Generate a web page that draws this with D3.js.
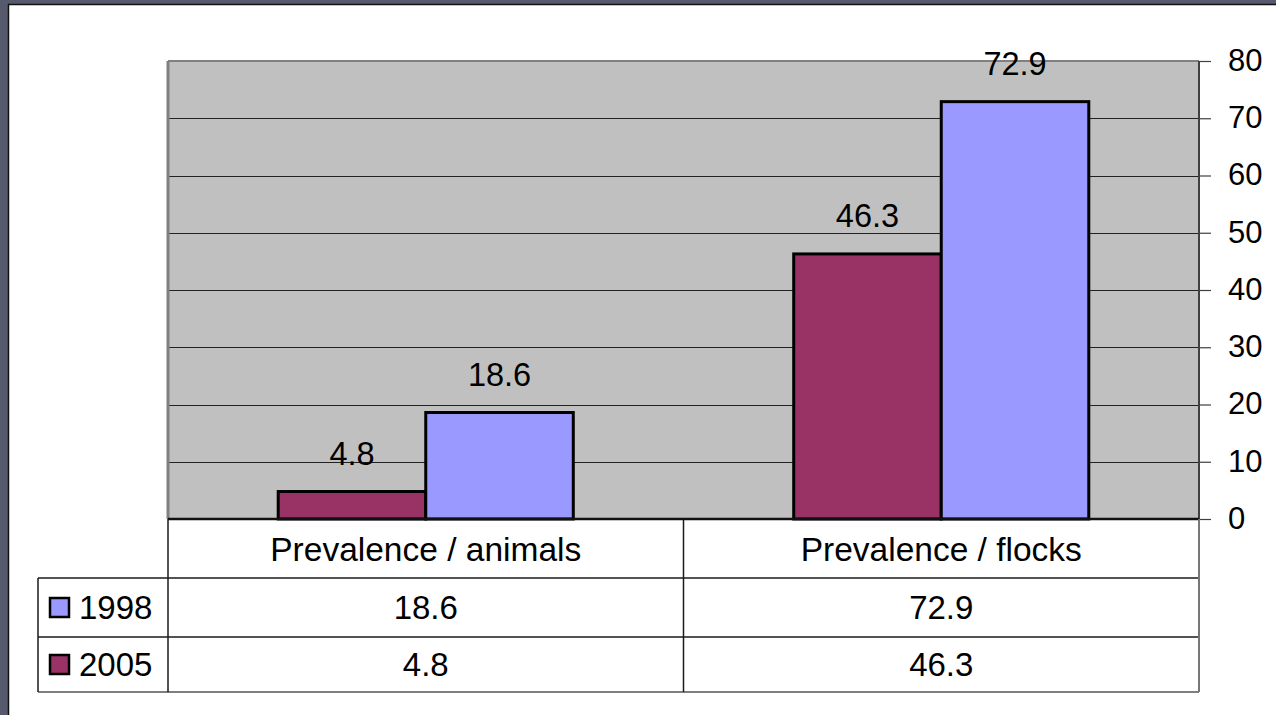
<!DOCTYPE html>
<html>
<head>
<meta charset="utf-8">
<script src="https://cdn.jsdelivr.net/npm/d3@7"></script>
<style>
  html, body { margin: 0; padding: 0; background: #fff; }
  svg { display: block; font-family: "Liberation Sans", Arial, sans-serif; }
</style>
</head>
<body>
<svg id="chart" width="1276" height="715"></svg>
<script>
// Prevalence by category, two survey years
const categories = ["Prevalence / animals", "Prevalence / flocks"];
const seriesNames = ["1998", "2005"];
const values1998 = [18.6, 72.9];
const values2005 = [4.8, 46.3];
const yTicks = [0, 10, 20, 30, 40, 50, 60, 70, 80];

const colors = { "1998": "#9999ff", "2005": "#993366" };
const seriesValues = { "1998": values1998, "2005": values2005 };
// bars are drawn 2005 first (left), 1998 second (right)
const barOrder = ["2005", "1998"];

const svg = d3.select("#chart");
const W = 1276, H = 715;

// slide frame
svg.append("rect").attr("x", 0).attr("y", 0).attr("width", W).attr("height", H).attr("fill", "#fff");
svg.append("rect").attr("x", 0).attr("y", 0).attr("width", W).attr("height", 4).attr("fill", "#565a6c");
svg.append("rect").attr("x", 0).attr("y", 0).attr("width", 8).attr("height", H).attr("fill", "#565a6c");
svg.append("line").attr("x1", 8).attr("x2", W).attr("y1", 4.5).attr("y2", 4.5).attr("stroke", "#111").attr("stroke-width", 1.5);
svg.append("line").attr("x1", 8.5).attr("x2", 8.5).attr("y1", 4).attr("y2", H).attr("stroke", "#111").attr("stroke-width", 1.5);

const plot = { left: 168, right: 1199, top: 61, bottom: 519 };

const x0 = d3.scaleBand().domain(categories).range([plot.left, plot.right]).paddingInner(0).paddingOuter(0);
const x1 = d3.scaleBand().domain(barOrder).range([0, x0.bandwidth()]).paddingInner(0).paddingOuter(0.747);
const y = d3.scaleLinear().domain([0, 80]).range([plot.bottom, plot.top]);

// plot background
svg.append("rect")
  .attr("x", plot.left).attr("y", plot.top)
  .attr("width", plot.right - plot.left).attr("height", plot.bottom - plot.top)
  .attr("fill", "#c0c0c0");

// gridlines
svg.append("g").selectAll("line").data(yTicks.filter(d => d > 0 && d < 80)).join("line")
  .attr("x1", plot.left).attr("x2", plot.right)
  .attr("y1", d => Math.round(y(d)) + 0.5).attr("y2", d => Math.round(y(d)) + 0.5)
  .attr("stroke", "#222").attr("stroke-width", 1);

// plot border (top and left)
svg.append("line").attr("x1", plot.left).attr("x2", plot.right).attr("y1", plot.top).attr("y2", plot.top)
  .attr("stroke", "#808080").attr("stroke-width", 2);
svg.append("line").attr("x1", plot.left).attr("x2", plot.left).attr("y1", plot.top).attr("y2", plot.bottom)
  .attr("stroke", "#808080").attr("stroke-width", 3);

// bars
const groups = svg.append("g").selectAll("g").data(categories).join("g")
  .attr("transform", d => `translate(${x0(d)},0)`);

groups.selectAll("rect").data((c, i) => barOrder.map(s => ({ s, v: seriesValues[s][i] }))).join("rect")
  .attr("x", d => x1(d.s))
  .attr("y", d => y(d.v))
  .attr("width", x1.bandwidth())
  .attr("height", d => y(0) - y(d.v))
  .attr("fill", d => colors[d.s])
  .attr("stroke", "#000").attr("stroke-width", 3);

// value labels
groups.selectAll("text").data((c, i) => barOrder.map(s => ({ s, v: seriesValues[s][i] }))).join("text")
  .attr("x", d => x1(d.s) + x1.bandwidth() / 2)
  .attr("y", d => y(d.v) - 27)
  .attr("text-anchor", "middle")
  .attr("font-size", 32.5)
  .attr("fill", "#000")
  .text(d => d.v.toFixed(1));

// right value axis
const axis = d3.axisRight(y).tickValues(yTicks).tickSize(12).tickPadding(17).tickFormat(d3.format("d"));
const gAxis = svg.append("g").attr("transform", `translate(${plot.right},0)`).call(axis);
gAxis.select(".domain").attr("stroke", "#404040").attr("stroke-width", 2).attr("d", `M0,${plot.top}V${plot.bottom}`);
gAxis.selectAll(".tick line").attr("stroke", "#404040").attr("stroke-width", 1.2);
gAxis.selectAll(".tick text").attr("font-size", 31).attr("fill", "#000").attr("dy", "0.3em")
  .attr("font-family", "Liberation Sans, Arial, sans-serif");

// zero line
svg.append("line").attr("x1", plot.left).attr("x2", plot.right).attr("y1", plot.bottom).attr("y2", plot.bottom)
  .attr("stroke", "#111").attr("stroke-width", 2.5);

// data table
const rowTop = [plot.bottom, 578, 637];
const rowBottom = 692;
const tableLeft = 38;
const tableLines = svg.append("g").attr("stroke", "#1a1a1a").attr("stroke-width", 1.5);
// horizontal lines
tableLines.append("line").attr("x1", tableLeft).attr("x2", plot.right).attr("y1", rowTop[1]).attr("y2", rowTop[1]);
tableLines.append("line").attr("x1", tableLeft).attr("x2", plot.right).attr("y1", rowTop[2]).attr("y2", rowTop[2]);
tableLines.append("line").attr("x1", tableLeft).attr("x2", plot.right).attr("y1", rowBottom).attr("y2", rowBottom)
  .attr("stroke", "#555");
// vertical lines
tableLines.append("line").attr("x1", tableLeft).attr("x2", tableLeft).attr("y1", rowTop[1]).attr("y2", rowBottom);
tableLines.append("line").attr("x1", plot.left).attr("x2", plot.left).attr("y1", plot.bottom).attr("y2", rowBottom);
tableLines.append("line").attr("x1", x0(categories[1])).attr("x2", x0(categories[1])).attr("y1", plot.bottom).attr("y2", rowBottom);
tableLines.append("line").attr("x1", plot.right).attr("x2", plot.right).attr("y1", plot.bottom).attr("y2", rowBottom)
  .attr("stroke", "#777").attr("stroke-width", 2);

// category headers
svg.append("g").selectAll("text").data(categories).join("text")
  .attr("x", d => x0(d) + x0.bandwidth() / 2)
  .attr("y", (rowTop[0] + rowTop[1]) / 2)
  .attr("dy", "0.36em")
  .attr("text-anchor", "middle")
  .attr("font-size", 33.5)
  .text(d => d);

// series rows with legend keys
const rowCenters = [(rowTop[1] + rowTop[2]) / 2, (rowTop[2] + rowBottom) / 2];
seriesNames.forEach((s, r) => {
  const cy = rowCenters[r];
  svg.append("rect").attr("x", 50).attr("y", cy - 9.5).attr("width", 19).attr("height", 19)
    .attr("fill", colors[s]).attr("stroke", "#000").attr("stroke-width", 2.5);
  svg.append("text").attr("x", 79).attr("y", cy).attr("dy", "0.36em")
    .attr("font-size", 33).text(s);
  svg.append("g").selectAll("text").data(categories).join("text")
    .attr("x", d => x0(d) + x0.bandwidth() / 2)
    .attr("y", cy).attr("dy", "0.36em")
    .attr("text-anchor", "middle")
    .attr("font-size", 33)
    .text((d, i) => seriesValues[s][i].toFixed(1));
});
</script>
</body>
</html>
